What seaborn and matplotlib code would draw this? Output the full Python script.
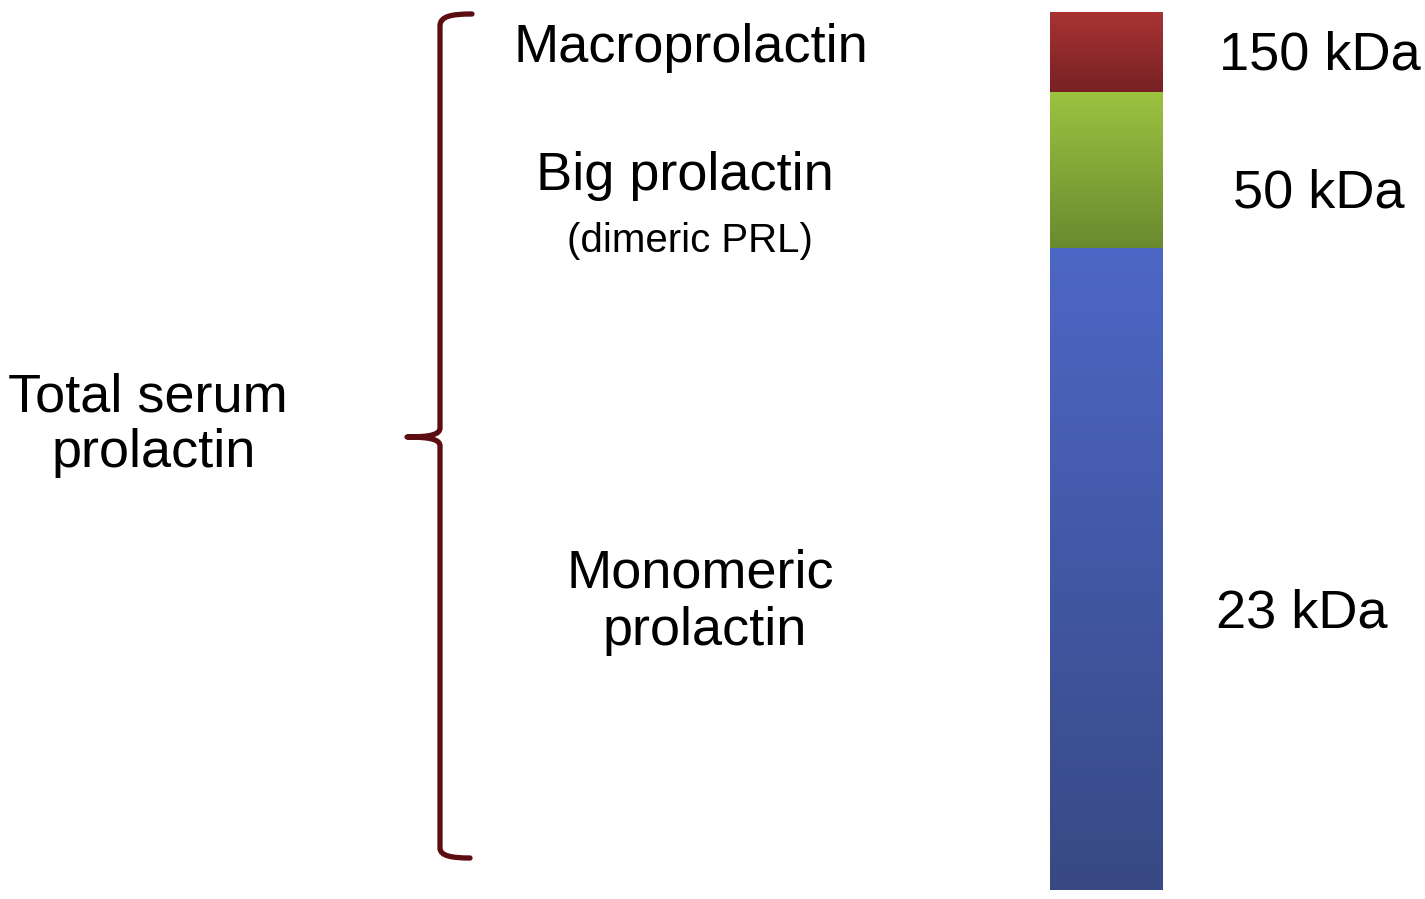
import numpy as np
import matplotlib
matplotlib.use("Agg")
import matplotlib.pyplot as plt
import matplotlib.colors as mcolors
from matplotlib.path import Path
from matplotlib.patches import PathPatch
import seaborn as sns

# ---------------------------------
# Data
# ---------------------------------
forms = ["Macroprolactin", "Big prolactin", "Monomeric prolactin"]
weights = ["150 kDa", "50 kDa", "23 kDa"]
band_share = [80, 156, 642]          # relative height of each band in the column
band_top = ["#a83333", "#9cc240", "#4d67c6"]
band_bottom = ["#772124", "#6a8a2f", "#384984"]

sns.set_theme(style="white")
plt.rcParams["font.family"] = ["Liberation Sans", "DejaVu Sans"]
plt.rcParams["text.color"] = "black"

W, H = 1425, 899
fig = plt.figure(figsize=(W / 100, H / 100), dpi=100)
fig.patch.set_facecolor("white")

# overlay in pixel coordinates for labels and brace
ax = fig.add_axes([0, 0, 1, 1])
ax.set_xlim(0, W)
ax.set_ylim(H, 0)
ax.axis("off")

# ---------------------------------
# Stacked column with gradient bands
# ---------------------------------
axb = fig.add_axes([1050 / W, (H - 890) / H, 113 / W, 878 / H])
total = sum(band_share)
bottoms = np.concatenate([[0], np.cumsum(band_share)[:-1]])
bars = axb.bar([0] * len(band_share), band_share, bottom=bottoms, width=1.0,
               color="none", edgecolor="none")
axb.set_xlim(-0.5, 0.5)
axb.set_ylim(total, 0)
axb.axis("off")

for rect, top, bot in zip(bars.patches, band_top, band_bottom):
    cmap = mcolors.LinearSegmentedColormap.from_list("g", [top, bot])
    grad = np.linspace(0, 1, 256).reshape(-1, 1)
    y0 = rect.get_y()
    y1 = y0 + rect.get_height()
    x0 = rect.get_x()
    x1 = x0 + rect.get_width()
    im = axb.imshow(grad, cmap=cmap, aspect="auto", extent=[x0, x1, y1, y0],
                    origin="upper", interpolation="bicubic")
    im.set_clip_path(rect)
axb.set_xlim(-0.5, 0.5)
axb.set_ylim(total, 0)

# ---------------------------------
# Curly brace
# ---------------------------------
brace_col = "#5c0d12"
verts = [
    (472, 14), (452, 14), (440, 16), (440, 26),
    (440, 428),
    (440, 434), (432, 437), (407, 437),
    (432, 437), (440, 440), (440, 446),
    (440, 848),
    (440, 856), (452, 858), (470, 858),
]
codes = [Path.MOVETO, Path.CURVE4, Path.CURVE4, Path.CURVE4,
         Path.LINETO,
         Path.CURVE4, Path.CURVE4, Path.CURVE4,
         Path.CURVE4, Path.CURVE4, Path.CURVE4,
         Path.LINETO,
         Path.CURVE4, Path.CURVE4, Path.CURVE4]
ax.add_patch(PathPatch(Path(verts, codes), facecolor="none",
                       edgecolor=brace_col, lw=3.8, capstyle="round",
                       joinstyle="round"))

# ---------------------------------
# Labels
# ---------------------------------
fs = 39
ax.text(691, 62, forms[0], fontsize=fs, ha="center", va="baseline")
ax.text(685, 190, forms[1], fontsize=fs, ha="center", va="baseline")
ax.text(690, 252, "(dimeric PRL)", fontsize=29, ha="center", va="baseline")
ax.text(700, 588, "Monomeric", fontsize=fs, ha="center", va="baseline")
ax.text(705, 645, "prolactin", fontsize=fs, ha="center", va="baseline")

ax.text(148, 412, "Total serum", fontsize=fs, ha="center", va="baseline")
ax.text(154, 467, "prolactin", fontsize=fs, ha="center", va="baseline")

ax.text(1219, 69, weights[0], fontsize=fs, ha="left", va="baseline")
ax.text(1233, 207, weights[1], fontsize=fs, ha="left", va="baseline")
ax.text(1216, 628, weights[2], fontsize=fs, ha="left", va="baseline")

fig.savefig("out.png", dpi=100, facecolor="white")
